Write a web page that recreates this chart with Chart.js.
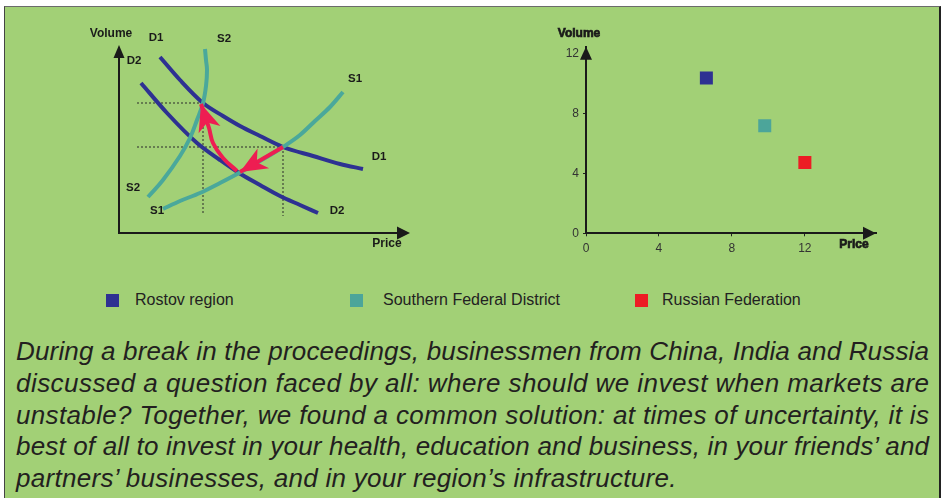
<!DOCTYPE html>
<html><head><meta charset="utf-8">
<script src="https://cdn.jsdelivr.net/npm/chart.js@4.4.1/dist/chart.umd.min.js"></script>
<style>
html,body{margin:0;padding:0;background:#fff;}
body{width:942px;height:498px;position:relative;overflow:hidden;font-family:"Liberation Sans",Arial,sans-serif;}
#panel{position:absolute;left:4px;top:6px;width:934px;height:500px;background:#a2d076;border-top:1px solid #6b6b6b;border-left:1px solid #444;border-right:2px solid #222;}
canvas{position:absolute;}
#left{left:90px;top:20px;}
#right{left:540px;top:20px;}
.leg{position:absolute;top:291px;height:18px;font-size:16px;color:#222;line-height:18px;white-space:nowrap;}
.sw{position:absolute;width:13px;height:13px;top:294px;}
#para{position:absolute;left:16px;top:336.1px;font-style:italic;font-size:26px;line-height:31.7px;color:#231f20;white-space:nowrap;}
</style></head>
<body>
<div id="panel"></div>
<canvas id="left" width="340" height="250"></canvas>
<canvas id="right" width="350" height="250"></canvas>
<div id="legend"></div>
<div id="para"></div>
<script>
// ---------- Left diagram (schematic supply / demand) ----------
const d1Price  = [41, 61, 84, 104, 121, 141, 164, 194, 221, 244];
const d1Volume = [176, 153, 130, 117, 107, 97, 86, 77, 69, 64];
const d2Price  = [22, 48, 78, 101, 120, 141, 161, 181, 199];
const d2Volume = [150, 120, 90, 73, 60, 48, 37, 28, 20];
const s1Price  = [44, 61, 81, 101, 120, 141, 164, 181, 196, 211, 224];
const s1Volume = [24, 32, 40, 50, 60, 72, 86, 98, 112, 126, 141];
const s2Price  = [29, 44, 61, 71, 78, 84, 87, 88, 87, 86];
const s2Volume = [36, 53, 77, 95, 113, 130, 147, 163, 173, 184];
const eqHighPrice = 84,  eqHighVolume = 130;
const eqMidPrice  = 164, eqMidVolume  = 86;
const shiftArrowPrice  = [164, 121];
const shiftArrowVolume = [86, 61];
const returnArrowPrice  = [118, 104, 94, 90, 82];
const returnArrowVolume = [62, 75, 90, 105, 129];
const curveLabelText = ['Volume','D1','S2','D2','S1','D1','S2','S1','D2','Price'];

// ---------- Right scatter ----------
const regions = ['Rostov region', 'Southern Federal District', 'Russian Federation'];
const regionPrice  = [6.6, 9.8, 12.0];
const regionVolume = [10.4, 7.2, 4.75];
const priceTicks  = [0, 4, 8, 12];
const volumeTicks = [0, 4, 8, 12];

const paragraphLines = [
 'During a break in the proceedings, businessmen from China, India and Russia',
 'discussed a question faced by all: where should we invest when markets are',
 'unstable? Together, we found a common solution: at times of uncertainty, it is',
 'best of all to invest in your health, education and business, in your friends\u2019 and',
 'partners\u2019 businesses, and in your region\u2019s infrastructure.'
];

// styles
const NAVY = '#2e3192', TEAL = '#4aa89b', RED = '#ee1d52', INK = '#1a1a1a';
const regionColors = ['#2e3192', '#4ca59a', '#ed1c24'];
const FONT = '"Liberation Sans", Arial, sans-serif';

function pts(xs, ys){ return xs.map((x,i)=>({x:x, y:ys[i]})); }

function arrowHead(ctx, x, y, ang, len, hw, notch, color){
  ctx.save();
  ctx.translate(x, y); ctx.rotate(ang);
  ctx.beginPath();
  ctx.moveTo(0,0);
  ctx.lineTo(-len, -hw);
  ctx.lineTo(-len*(1-notch), 0);
  ctx.lineTo(-len, hw);
  ctx.closePath();
  ctx.fillStyle = color; ctx.fill();
  ctx.restore();
}

// label anchors in diagram units (annotation placement)
const labelAnchors = [[-8,199],[37,195],[105,194],[15,172],[236,154],[260,76],[14,45],[38,22],[218,22],[268,-11]];
const axisEnds = {price: 291, volume: 188};

const leftPlugin = {
  id:'leftDecor',
  beforeDatasetsDraw(chart){
    const ctx = chart.ctx, xs = chart.scales.x, ys = chart.scales.y;
    const ox = xs.getPixelForValue(0), oy = ys.getPixelForValue(0);
    const tx = xs.getPixelForValue(axisEnds.price), ty = ys.getPixelForValue(axisEnds.volume);
    ctx.save();
    ctx.strokeStyle = INK; ctx.lineWidth = 2;
    ctx.beginPath(); ctx.moveTo(ox, oy); ctx.lineTo(tx-8, oy); ctx.stroke();
    ctx.beginPath(); ctx.moveTo(ox, oy+1); ctx.lineTo(ox, ty+8); ctx.stroke();
    ctx.restore();
    arrowHead(ctx, tx, oy, 0, 13, 6.5, 0, INK);
    arrowHead(ctx, ox, ty, -Math.PI/2, 13, 5.5, 0, INK);
  },
  afterDatasetsDraw(chart){
    const ctx = chart.ctx, xs = chart.scales.x, ys = chart.scales.y;
    chart.data.datasets.forEach((ds,i)=>{
      if(!ds.arrow) return;
      const p = chart.getDatasetMeta(i).data;
      const a = p[p.length-2], b = p[p.length-1];
      arrowHead(ctx, b.x, b.y, Math.atan2(b.y-a.y, b.x-a.x), 27, 11.5, 0.28, RED);
    });
    ctx.save();
    ctx.fillStyle = INK; ctx.textAlign='center'; ctx.textBaseline='middle';
    curveLabelText.forEach((t,i)=>{
      ctx.font = (i===0||i===9) ? 'bold 12px '+FONT : 'bold 11.5px '+FONT;
      ctx.fillText(t, xs.getPixelForValue(labelAnchors[i][0]), ys.getPixelForValue(labelAnchors[i][1]));
    });
    ctx.restore();
  }
};

const guideStart = 18, guideBottomHigh = 20, guideBottomMid = 17;
const guideStyle = {borderColor:'#2a2a2a', borderWidth:1, borderDash:[2,2], pointRadius:0, showLine:true, tension:0, order:6};
const curveStyle = {borderWidth:4, pointRadius:0, showLine:true, fill:false};
const mono = {cubicInterpolationMode:'monotone'};
const smooth = {tension:0.4};

new Chart(document.getElementById('left'), {
  type:'scatter',
  data:{datasets:[
    Object.assign({data:pts([guideStart, eqHighPrice],[eqHighVolume, eqHighVolume])}, guideStyle),
    Object.assign({data:pts([guideStart, eqMidPrice],[eqMidVolume, eqMidVolume])}, guideStyle),
    Object.assign({data:pts([eqHighPrice, eqHighPrice],[eqHighVolume, guideBottomHigh])}, guideStyle),
    Object.assign({data:pts([eqMidPrice, eqMidPrice],[eqMidVolume, guideBottomMid])}, guideStyle),
    Object.assign({label:'D1', data:pts(d1Price,d1Volume), borderColor:NAVY, order:4}, curveStyle, mono),
    Object.assign({label:'D2', data:pts(d2Price,d2Volume), borderColor:NAVY, order:4}, curveStyle, mono),
    Object.assign({label:'S1', data:pts(s1Price,s1Volume), borderColor:TEAL, order:3}, curveStyle, mono),
    Object.assign({label:'S2', data:pts(s2Price,s2Volume), borderColor:TEAL, order:3}, curveStyle, smooth),
    {data:pts(shiftArrowPrice, shiftArrowVolume), borderColor:RED, borderWidth:4, pointRadius:0, showLine:true, tension:0, arrow:true, order:1},
    {data:pts(returnArrowPrice, returnArrowVolume), borderColor:RED, borderWidth:4, pointRadius:0, showLine:true, tension:0.4, arrow:true, order:1}
  ]},
  options:{
    responsive:false, animation:false, devicePixelRatio:1,
    layout:{padding:0},
    plugins:{legend:{display:false}, tooltip:{enabled:false}},
    scales:{
      x:{type:'linear', display:false, min:-29, max:311},
      y:{type:'linear', display:false, min:-37, max:213}
    }
  },
  plugins:[leftPlugin]
});

const rightPlugin = {
  id:'rightDecor',
  afterDraw(chart){
    const ctx = chart.ctx, a = chart.chartArea;
    arrowHead(ctx, a.right, a.bottom, 0, 13, 6.5, 0, INK);
    arrowHead(ctx, a.left, a.top, -Math.PI/2, 13, 6, 0, INK);
    ctx.save();
    ctx.fillStyle = INK; ctx.strokeStyle = INK; ctx.lineWidth = 0.7;
    ctx.font = 'bold 12px '+FONT; ctx.textAlign='center'; ctx.textBaseline='middle';
    ctx.fillText('Volume', a.left-7, a.top-13); ctx.strokeText('Volume', a.left-7, a.top-13);
    ctx.fillText('Price', a.right-22, a.bottom+11); ctx.strokeText('Price', a.right-22, a.bottom+11);
    ctx.restore();
  }
};

const tickCommon = {color:'#333', font:{family:FONT, size:12}};
new Chart(document.getElementById('right'), {
  type:'scatter',
  data:{datasets: regions.map((r,i)=>({
    label:r, data:[{x:regionPrice[i], y:regionVolume[i]}],
    pointStyle:'rect', pointRadius:9.2, pointBorderWidth:0, borderWidth:0,
    backgroundColor:regionColors[i], pointBackgroundColor:regionColors[i]
  }))},
  options:{
    responsive:false, animation:false, devicePixelRatio:1,
    layout:{padding:{top:26.7, right:14, left:0, bottom:0}},
    plugins:{legend:{display:false}, tooltip:{enabled:false}},
    scales:{
      x:{type:'linear', min:0, max:15.9,
         afterBuildTicks:s=>{ s.ticks = priceTicks.map(v=>({value:v})); },
         afterFit:s=>{ s.height = 36.7; },
         grid:{drawOnChartArea:false, drawTicks:true, tickLength:3, color:'#222'},
         border:{display:true, color:INK, width:2},
         ticks:Object.assign({padding:5}, tickCommon)},
      y:{type:'linear', min:0, max:12.5,
         afterBuildTicks:s=>{ s.ticks = volumeTicks.map(v=>({value:v})); },
         afterFit:s=>{ s.width = 46; },
         grid:{drawOnChartArea:false, drawTicks:true, tickLength:3, color:'#222'},
         border:{display:true, color:INK, width:2},
         ticks:Object.assign({padding:4}, tickCommon)}
    }
  },
  plugins:[rightPlugin]
});

// ---------- Legend (HTML) ----------
const legendSwatchX = [106, 350, 635];
const legendTextX = [135, 383, 662];
const legend = document.getElementById('legend');
regions.forEach((r,i)=>{
  const sw = document.createElement('div'); sw.className='sw';
  sw.style.left = legendSwatchX[i]+'px'; sw.style.background = regionColors[i];
  legend.appendChild(sw);
  const t = document.createElement('div'); t.className='leg';
  t.style.left = legendTextX[i]+'px'; t.textContent = r;
  legend.appendChild(t);
});

// ---------- Paragraph ----------
const para = document.getElementById('para');
paragraphLines.forEach(t=>{
  const d = document.createElement('div'); const s = document.createElement('span');
  s.textContent = t; d.appendChild(s); para.appendChild(d);
});
function justify(){
  const target = 913; let sum = 0, n = 0;
  const divs = [...para.children];
  divs.forEach((d,i)=>{
    const s = d.firstChild; s.style.letterSpacing = '0px';
    const w = s.getBoundingClientRect().width;
    const chars = s.textContent.length - 1;
    if(i < divs.length-1){
      const ls = (target - w)/chars; s.style.letterSpacing = ls+'px'; sum += ls; n++;
    } else {
      s.style.letterSpacing = (sum/n)+'px';
    }
  });
}
justify();
if(document.fonts && document.fonts.ready) document.fonts.ready.then(justify);
</script>
</body></html>
